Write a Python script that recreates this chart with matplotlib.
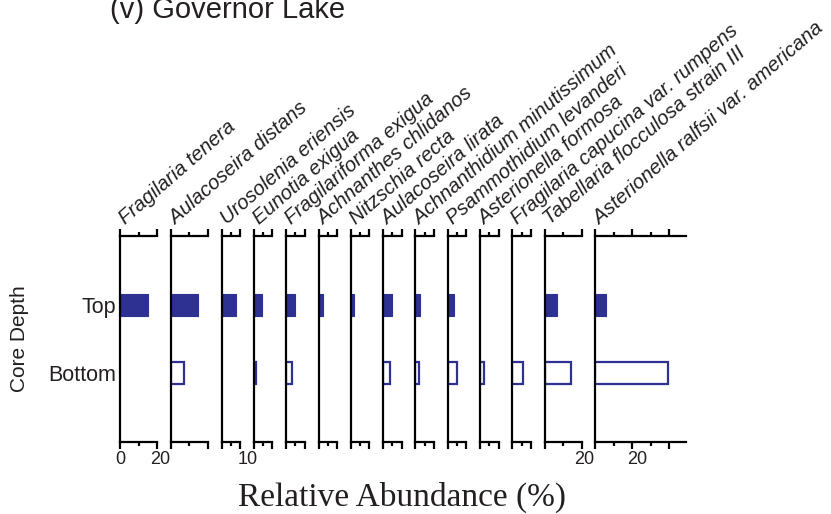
"""Diatom stratigraphy for Governor Lake (top vs bottom core samples)."""
import matplotlib
matplotlib.use('Agg')
import matplotlib.pyplot as plt
from matplotlib.ticker import MultipleLocator, FixedLocator, NullFormatter

plt.rcParams['font.family'] = ['Liberation Sans', 'DejaVu Sans']

taxa = ['Fragilaria tenera', 'Aulacoseira distans', 'Urosolenia eriensis',
        'Eunotia exigua', 'Fragilariforma exigua', 'Achnanthes chlidanos',
        'Nitzschia recta', 'Aulacoseira lirata',
        'Achnanthidium minutissimum', 'Psammothidium levanderi',
        'Asterionella formosa', 'Fragilaria capucina var. rumpens',
        'Tabellaria flocculosa strain III',
        'Asterionella ralfsii var. americana']
# relative abundance (%) in the top and bottom samples (0 = not found)
top_pct = [15.0, 14.8, 7.7, 4.2, 4.9, 2.4, 1.8, 4.7, 2.4, 3.4, 0.0, 0.0,
           6.8, 5.8]
bottom_pct = [0.0, 7.2, 0.0, 1.0, 3.2, 0.0, 0.0, 3.6, 1.8, 5.2, 2.3, 5.9,
              14.2, 39.3]
x_max = [20, 20, 10, 10, 10, 10, 10, 10, 10, 10, 10, 10, 20, 49]
depths = ['Top', 'Bottom']

W, H = 831, 514
BLUE = '#2e3192'
px_per_pct = 1.85
gap_px = 13.8
left_px = 120
top_px, bot_px = 236, 442

fig = plt.figure(figsize=(W / 100, H / 100), dpi=100)

axes = []
x0 = left_px
for i, name in enumerate(taxa):
    w = x_max[i] * px_per_pct
    ax = fig.add_axes([x0 / W, (H - bot_px) / H, w / W,
                       (bot_px - top_px) / H])
    axes.append(ax)

    if top_pct[i] > 0:
        ax.barh(1, top_pct[i], height=0.32, color=BLUE, edgecolor=BLUE,
                linewidth=0.8)
    if bottom_pct[i] > 0:
        ax.barh(2, bottom_pct[i], height=0.32, facecolor='white',
                edgecolor=BLUE, linewidth=1.6)

    ax.set_xlim(0, x_max[i])
    ax.set_ylim(3, 0)
    for side in ('left', 'top', 'bottom'):
        ax.spines[side].set_linewidth(1.6)
    ax.spines['right'].set_visible(False)

    if x_max[i] >= 40:
        ax.xaxis.set_major_locator(FixedLocator([0, 20, 40]))
        ax.xaxis.set_minor_locator(FixedLocator([10, 30]))
    else:
        ax.xaxis.set_major_locator(MultipleLocator(x_max[i]))
        ax.xaxis.set_minor_locator(MultipleLocator(x_max[i] / 2))
    ax.xaxis.set_ticks_position('both')
    ax.tick_params(axis='x', which='major', direction='out', length=5,
                   width=1.6)
    ax.tick_params(axis='x', which='minor', direction='out', length=3,
                   width=1.6)
    ax.xaxis.set_major_formatter(NullFormatter())

    if i == 0:
        ax.set_yticks([1, 2])
        ax.set_yticklabels(depths, fontsize=15.5, color='#231f20')
        ax.tick_params(axis='y', length=0, pad=3)
        ax.set_ylabel('Core Depth', fontsize=15, labelpad=14,
                      color='#231f20')
    else:
        ax.set_yticks([])

    # rotated taxon name above each panel
    fig.text((x0 + 5) / W, (H - top_px + 11) / H, name, rotation=41,
             rotation_mode='anchor', ha='left', va='baseline',
             fontsize=14.5, style='italic', color='#231f20')
    x0 += w + gap_px

# a few scale labels under selected panels
scale_labels = [(0, 0, '0'), (0, 21.5, '20'), (2, 14.0, '10'),
                (12, 21.5, '20'), (13, 22.5, '20')]
for idx, xv, txt in scale_labels:
    axes[idx].text(xv, -0.045, txt, transform=axes[idx].get_xaxis_transform(),
                   ha='center', va='top', fontsize=13, clip_on=False,
                   color='#231f20')

fig.text(402 / W, 1 - 497 / H, 'Relative Abundance (%)', ha='center',
         va='center', fontsize=24, family='Liberation Serif',
         color='#231f20')
fig.text(110 / W, 1 - 18 / H, '(v) Governor Lake', ha='left',
         va='baseline', fontsize=21, color='#231f20')

fig.savefig('out.png', dpi=100, facecolor='white')
